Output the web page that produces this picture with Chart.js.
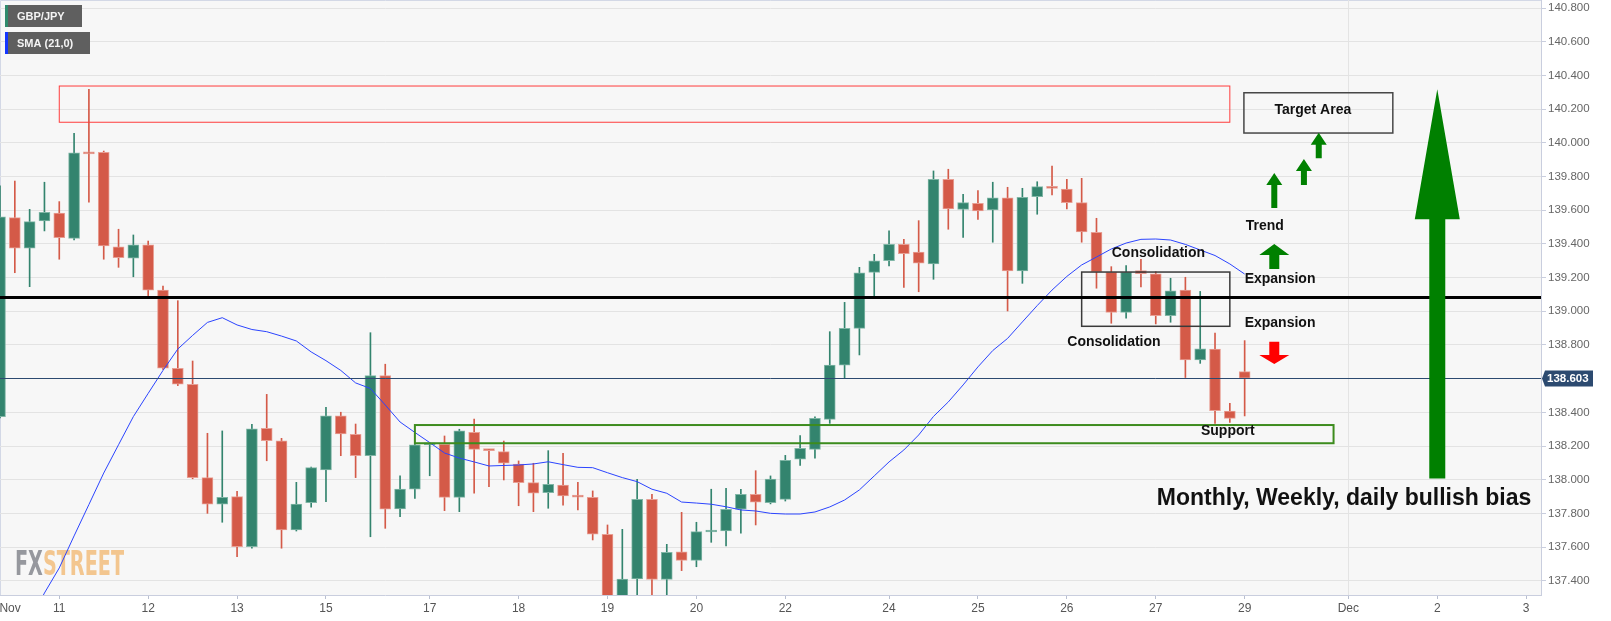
<!DOCTYPE html>
<html>
<head>
<meta charset="utf-8">
<title>GBP/JPY 4H</title>
<script src="https://cdn.jsdelivr.net/npm/chart.js@4.4.0/dist/chart.umd.min.js"></script>
<style>
	html, body { margin: 0; padding: 0; background: #fff; }
	#wrap { position: relative; width: 1611px; height: 621px; }
</style>
</head>
<body>
<div id="wrap"><canvas id="chart"></canvas></div>
<script>
// 4h candles, index 0 = first bar on screen
const opens = [
	138.375, 139.556, 139.374, 139.536, 139.583, 139.433, 139.941, 139.944, 139.383, 139.315,
	139.395, 139.126, 138.662, 138.567, 138.013, 137.855, 137.900, 137.603, 138.306, 138.232,
	137.702, 137.864, 138.058, 138.380, 138.270, 138.143, 138.618, 137.827, 137.945, 138.207,
	138.210, 137.896, 138.282, 138.178, 138.167, 138.094, 137.983, 137.924, 137.969, 137.902,
	137.896, 137.677, 137.290, 137.411, 137.884, 137.409, 137.572, 137.522, 137.690, 137.696,
	137.825, 137.914, 137.864, 137.884, 138.122, 138.181, 138.359, 138.681, 138.899, 139.231,
	139.300, 139.398, 139.352, 139.281, 139.783, 139.605, 139.641, 139.601, 139.674, 139.239,
	139.680, 139.740, 139.726, 139.645, 139.469, 139.233, 138.994, 139.241, 139.223, 138.974,
	139.126, 138.711, 138.776, 138.408, 138.642
];
const highs = [
	139.744, 139.773, 139.605, 139.766, 139.651, 140.056, 140.318, 139.951, 139.487, 139.453,
	139.417, 139.150, 139.063, 138.705, 138.276, 138.290, 137.932, 138.329, 138.507, 138.246,
	137.985, 138.076, 138.430, 138.401, 138.331, 138.873, 138.686, 138.024, 138.210, 138.217,
	138.260, 138.300, 138.361, 138.180, 138.230, 138.112, 138.098, 138.173, 138.157, 137.985,
	137.934, 137.732, 137.706, 138.003, 137.914, 137.617, 137.807, 137.748, 137.944, 137.950,
	137.944, 138.054, 138.023, 138.145, 138.262, 138.374, 138.879, 139.053, 139.261, 139.338,
	139.477, 139.427, 139.538, 139.833, 139.843, 139.694, 139.716, 139.766, 139.736, 139.730,
	139.769, 139.862, 139.783, 139.789, 139.552, 139.265, 139.271, 139.309, 139.235, 139.196,
	139.202, 139.118, 138.870, 138.454, 138.826
];
const lows = [
	138.367, 139.229, 139.146, 139.477, 139.309, 139.423, 139.647, 139.309, 139.261, 139.205,
	139.093, 138.655, 138.559, 138.006, 137.801, 137.748, 137.544, 137.594, 138.113, 137.594,
	137.696, 137.837, 137.870, 138.143, 138.013, 137.662, 137.712, 137.781, 137.890, 138.024,
	137.817, 137.811, 137.920, 137.959, 137.999, 137.846, 137.811, 137.831, 137.850, 137.821,
	137.643, 137.260, 137.260, 137.280, 137.280, 137.304, 137.461, 137.484, 137.629, 137.607,
	137.683, 137.732, 137.857, 137.874, 138.086, 138.128, 138.335, 138.606, 138.741, 139.087,
	139.269, 139.142, 139.116, 139.190, 139.487, 139.439, 139.546, 139.410, 139.002, 139.166,
	139.576, 139.690, 139.607, 139.410, 139.137, 138.929, 138.959, 139.144, 138.925, 138.935,
	138.607, 138.691, 138.335, 138.341, 138.379
];
const closes = [
	139.561, 139.374, 139.532, 139.588, 139.437, 139.941, 139.934, 139.388, 139.318, 139.394,
	139.126, 138.662, 138.567, 138.013, 137.855, 137.896, 137.603, 138.302, 138.232, 137.702,
	137.856, 138.072, 138.380, 138.272, 138.143, 138.618, 137.825, 137.945, 138.207, 138.210,
	137.896, 138.290, 138.181, 138.173, 138.098, 137.983, 137.920, 137.973, 137.904, 137.897,
	137.677, 137.290, 137.411, 137.884, 137.409, 137.570, 137.522, 137.692, 137.694, 137.825,
	137.914, 137.867, 138.005, 138.116, 138.187, 138.365, 138.681, 138.899, 139.229, 139.299,
	139.398, 139.342, 139.285, 139.783, 139.607, 139.645, 139.595, 139.674, 139.239, 139.676,
	139.740, 139.730, 139.645, 139.471, 139.233, 138.994, 139.233, 139.223, 138.974, 139.122,
	138.711, 138.778, 138.410, 138.365, 138.603
];

// SMA (21,0) as plotted, starting at bar 2
const smaStart = 2;
const sma21 = [
	137.160,
	137.328, 137.477, 137.667, 137.853, 138.040, 138.208, 138.375, 138.513, 138.649, 138.776,
	138.857, 138.934, 138.962, 138.919, 138.892, 138.879, 138.853, 138.824, 138.759, 138.707,
	138.649, 138.575, 138.542, 138.444, 138.343, 138.281, 138.221, 138.159, 138.129, 138.106,
	138.082, 138.085, 138.088, 138.094, 138.107, 138.090, 138.074, 138.072, 138.042, 138.013,
	137.989, 137.944, 137.920, 137.868, 137.862, 137.855, 137.840, 137.821, 137.815, 137.801,
	137.797, 137.797, 137.809, 137.839, 137.880, 137.940, 138.023, 138.106, 138.177, 138.266,
	138.376, 138.462, 138.563, 138.670, 138.767, 138.839, 138.937, 139.034, 139.126, 139.207,
	139.275, 139.322, 139.370, 139.405, 139.427, 139.429, 139.423, 139.397, 139.364, 139.331,
	139.281, 139.221
];

const dayTicks = [0.68, 4, 10, 16, 22, 29, 35, 41, 47, 53, 60, 66, 72, 78, 84, 91, 97, 103];
const dayLabels = ["Nov", "11", "12", "13", "15", "17", "18", "19", "20", "22", "24", "25", "26", "27", "29", "Dec", "2", "3"];
const priceTicks = [
	137.4, 137.6, 137.8, 138.0, 138.2, 138.4, 138.6, 138.8, 139.0,
	139.2, 139.4, 139.6, 139.8, 140.0, 140.2, 140.4, 140.6, 140.8
];

const lastPrice = 138.603;
const keyLevel = 139.085;

const GREEN = "#33846e";
const RED = "#d45a48";
const FONT = '"Liberation Sans", Arial, sans-serif';

// drawn zones: [fromBar, toBar, lowPrice, highPrice]
const zones = {
	resistance: [4, 83, 140.122, 140.337],
	target: [83.95, 94, 140.058, 140.297],
	consolidation: [73, 83, 138.911, 139.233],
	support: [28, 90, 138.217, 138.325],
};

const notes = [
	{ text: "Target Area", x: 88.6, y: 140.195, align: "center" },
	{ text: "Consolidation", x: 75.03, y: 139.346, align: "left" },
	{ text: "Consolidation", x: 72.03, y: 138.818, align: "left" },
	{ text: "Trend", x: 84.07, y: 139.508, align: "left" },
	{ text: "Expansion", x: 84.0, y: 139.192, align: "left" },
	{ text: "Expansion", x: 84.0, y: 138.931, align: "left" },
	{ text: "Support", x: 82.86, y: 138.29, align: "center" },
];

const arrows = [
	{ x: 86, tip: 139.821, base: 139.613, head: 16, headH: 12, shaft: 6, color: "#008000" },
	{ x: 88, tip: 139.904, base: 139.75, head: 16, headH: 12, shaft: 6, color: "#008000" },
	{ x: 89, tip: 140.06, base: 139.908, head: 16, headH: 12, shaft: 6, color: "#008000" },
	{ x: 86, tip: 139.399, base: 139.251, head: 30, headH: 11, shaft: 10, color: "#008000" },
	{ x: 86, tip: 138.687, base: 138.82, head: 30, headH: 9, shaft: 10, color: "#ff0000" },
	{ x: 97, tip: 140.318, base: 138.008, head: 45, headH: 130, shaft: 16, color: "#008000" },
];

function isUp(i) {
	return closes[i] >= opens[i];
}

function drawArrow(ctx, px, tipY, baseY, a) {
	// works both ways, sign follows the tip
	const dir = tipY < baseY ? 1 : -1;
	const neck = tipY + dir * a.headH;
	ctx.fillStyle = a.color;
	ctx.beginPath();
	ctx.moveTo(px, tipY);
	ctx.lineTo(px + a.head / 2, neck);
	ctx.lineTo(px + a.shaft / 2, neck);
	ctx.lineTo(px + a.shaft / 2, baseY);
	ctx.lineTo(px - a.shaft / 2, baseY);
	ctx.lineTo(px - a.shaft / 2, neck);
	ctx.lineTo(px - a.head / 2, neck);
	ctx.closePath();
	ctx.fill();
}

function tag(ctx, x, y, w, h, stripe, label) {
	ctx.fillStyle = "#5f5f5f";
	ctx.fillRect(x, y, w, h);
	ctx.fillStyle = stripe;
	ctx.fillRect(x, y, 3, h);
	ctx.fillStyle = "#f4f4f4";
	ctx.font = "bold 11px " + FONT;
	ctx.textAlign = "left";
	ctx.textBaseline = "middle";
	ctx.fillText(label, x + 12, y + h / 2 + 0.5);
}

const backdrop = {
	id: "backdrop",
	beforeDraw(chart) {
		const { ctx, chartArea: a } = chart;
		ctx.save();
		ctx.fillStyle = "#ffffff";
		ctx.fillRect(0, 0, chart.width, chart.height);
		ctx.fillStyle = "#f7f7f7";
		ctx.fillRect(a.left, a.top, a.right - a.left, a.bottom - a.top);
		ctx.strokeStyle = "#d3d8e6";
		ctx.lineWidth = 1;
		ctx.beginPath();
		ctx.moveTo(a.left + 0.5, a.bottom);
		ctx.lineTo(a.left + 0.5, a.top + 0.5);
		ctx.lineTo(a.right, a.top + 0.5);
		ctx.stroke();
		ctx.restore();
	},
	beforeDatasetsDraw(chart) {
		// FXStreet watermark, sits under the series
		const { ctx } = chart;
		ctx.save();
		ctx.font = 'bold 34px "DejaVu Sans Condensed", "DejaVu Sans", sans-serif';
		ctx.textBaseline = "alphabetic";
		ctx.textAlign = "left";
		const wFx = ctx.measureText("FX").width;
		const wAll = ctx.measureText("FXSTREET").width;
		ctx.translate(15, 575);
		ctx.scale(109 / wAll, 1);
		ctx.fillStyle = "#96989e";
		ctx.fillText("FX", 0, 0);
		ctx.fillStyle = "#f3c68f";
		ctx.fillText("STREET", wFx, 0);
		ctx.restore();
	},
};

const markup = {
	id: "markup",
	afterDatasetsDraw(chart) {
		const { ctx, chartArea: a } = chart;
		const xs = chart.scales.x;
		const ys = chart.scales.y;
		const X = (v) => xs.getPixelForValue(v);
		const Y = (v) => ys.getPixelForValue(v);

		const box = (z, color, width) => {
			ctx.strokeStyle = color;
			ctx.lineWidth = width;
			ctx.strokeRect(X(z[0]), Y(z[3]), X(z[1]) - X(z[0]), Y(z[2]) - Y(z[3]));
		};

		ctx.save();
		ctx.beginPath();
		ctx.rect(a.left, a.top, a.right - a.left, a.bottom - a.top);
		ctx.clip();

		box(zones.resistance, "#ff3c3c", 1);
		box(zones.support, "#3d8c1e", 2);
		box(zones.consolidation, "#3a3a3a", 1.5);
		box(zones.target, "#474747", 1.5);

		// key level
		ctx.strokeStyle = "#000";
		ctx.lineWidth = 3;
		ctx.beginPath();
		ctx.moveTo(a.left, Math.round(Y(keyLevel)) + 0.5);
		ctx.lineTo(a.right, Math.round(Y(keyLevel)) + 0.5);
		ctx.stroke();

		// last price line
		ctx.strokeStyle = "#2c4a70";
		ctx.lineWidth = 1;
		ctx.beginPath();
		ctx.moveTo(a.left, Math.round(Y(lastPrice)) + 0.5);
		ctx.lineTo(a.right, Math.round(Y(lastPrice)) + 0.5);
		ctx.stroke();

		arrows.forEach((ar) => drawArrow(ctx, X(ar.x), Y(ar.tip), Y(ar.base), ar));

		ctx.fillStyle = "#111";
		ctx.textBaseline = "middle";
		ctx.font = "bold 14px " + FONT;
		notes.forEach((n) => {
			ctx.textAlign = n.align;
			ctx.fillText(n.text, X(n.x), Y(n.y));
		});

		ctx.font = "bold 23px " + FONT;
		ctx.textAlign = "left";
		ctx.fillText("Monthly, Weekly, daily bullish bias", X(78.07), Y(137.886));
		ctx.restore();

		ctx.save();
		tag(ctx, 5, 5, 77, 22, "#2f8a6c", "GBP/JPY");
		tag(ctx, 5, 32, 85, 22, "#1436ff", "SMA (21,0)");

		// price flag on the axis
		const py = Math.round(Y(lastPrice)) + 0.5;
		ctx.fillStyle = "#2c4a70";
		ctx.beginPath();
		ctx.moveTo(a.right + 1, py);
		ctx.lineTo(a.right + 4, py - 8);
		ctx.lineTo(a.right + 52, py - 8);
		ctx.lineTo(a.right + 52, py + 8);
		ctx.lineTo(a.right + 4, py + 8);
		ctx.closePath();
		ctx.fill();
		ctx.fillStyle = "#fff";
		ctx.font = "bold 11.5px " + FONT;
		ctx.textAlign = "left";
		ctx.textBaseline = "middle";
		ctx.fillText(lastPrice.toFixed(3), a.right + 6, py + 0.5);
		ctx.restore();
	},
};

Chart.defaults.font.family = FONT;

new Chart(document.getElementById("chart"), {
	type: "bar",
	data: {
		datasets: [
			{
				type: "line",
				label: "SMA (21,0)",
				data: sma21.map((v, k) => ({ x: smaStart + k, y: v })),
				borderColor: "#2b44ff",
				borderWidth: 1,
				pointRadius: 0,
				tension: 0,
				order: 0,
			},
			{
				label: "body",
				data: opens.map((o, i) => ({ x: i, y: [o, closes[i]] })),
				backgroundColor: (c) => (isUp(c.dataIndex) ? GREEN : RED),
				borderColor: (c) => (isUp(c.dataIndex) ? "#80b6a6" : "#e89f94"),
				borderWidth: 1,
				borderSkipped: false,
				barThickness: 11,
				minBarLength: 2,
				grouped: false,
				order: 1,
			},
			{
				label: "wick",
				data: lows.map((l, i) => ({ x: i, y: [l, highs[i]] })),
				backgroundColor: (c) => (isUp(c.dataIndex) ? GREEN : RED),
				borderWidth: 0,
				barThickness: 1,
				grouped: false,
				order: 2,
			},
		],
	},
	options: {
		responsive: true,
		maintainAspectRatio: false,
		devicePixelRatio: 1,
		animation: false,
		layout: { padding: 0 },
		plugins: {
			legend: { display: false },
			tooltip: { enabled: false },
		},
		scales: {
			x: {
				type: "linear",
				min: 0,
				max: 104,
				offset: false,
				grid: {
					offset: false,
					color: (c) => (c.tick && c.tick.value === 91 ? "#e4e4e4" : "rgba(0,0,0,0)"),
					tickColor: (c) => (c.tick && c.tick.value < 1 ? "rgba(0,0,0,0)" : "#b9bfd0"),
					tickLength: 4,
				},
				border: { display: true, color: "#c9cede" },
				ticks: {
					autoSkip: false,
					maxRotation: 0,
					padding: 2,
					color: "#555",
					font: { size: 12 },
					callback: (v, i) => dayLabels[i],
				},
				afterBuildTicks: (s) => {
					s.ticks = dayTicks.map((v) => ({ value: v }));
				},
				afterFit: (s) => {
					s.height = 26;
					s.paddingLeft = 0;
					s.paddingRight = 0;
				},
			},
			y: {
				position: "right",
				min: 137.3163,
				max: 140.8475,
				beginAtZero: false,
				grid: { color: "#e3e3e3", tickColor: "#c9cede", tickLength: 5 },
				border: { display: true, color: "#c9cede" },
				ticks: {
					padding: 2,
					color: "#666",
					font: { size: 11.5 },
					callback: (v) => v.toFixed(3),
				},
				afterBuildTicks: (s) => {
					s.ticks = priceTicks.map((v) => ({ value: v }));
				},
				afterFit: (s) => {
					s.width = 70;
					s.paddingTop = 0;
					s.paddingBottom = 0;
				},
			},
		},
	},
	plugins: [backdrop, markup],
});
</script>
</body>
</html>
